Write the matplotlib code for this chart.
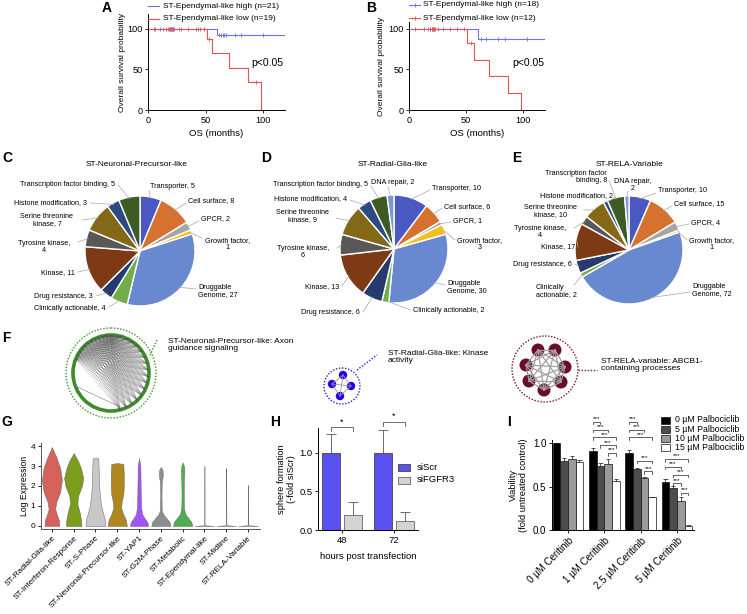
"""Ependymoma single-cell subtype figure: KM curves, druggable-gene pies,
network sketches, marker violins and two knock-down / drug bar charts."""

import numpy as np
import matplotlib

matplotlib.use("Agg")
import matplotlib.pyplot as plt
from matplotlib.patches import Circle, Rectangle

plt.rcParams["font.family"] = ["Liberation Sans", "DejaVu Sans"]

# ---------------------------------------------------------------- data
# A / B: Kaplan-Meier steps (months, % surviving) and censor marks
A_HIGH_T = [0, 60]
A_HIGH_S = [100, 92.5]
A_HIGH_CENS = [5, 10, 13, 17, 19, 20, 21, 22, 23, 29, 42, 45,
               62, 63, 65, 66, 68, 76, 81, 100]
A_LOW_T = [0, 51, 56, 70, 87, 98]
A_LOW_S = [100, 88, 70, 52, 35, 0]
A_LOW_CENS = [6, 16, 18, 19, 20, 21, 22, 27, 35, 43, 49, 53, 94]

B_HIGH_T = [0, 60]
B_HIGH_S = [100, 87.5]
B_HIGH_CENS = [5, 13, 17, 18, 20, 21, 22, 25, 30, 36, 42, 48,
               63, 67, 78, 84, 103]
B_LOW_T = [0, 51, 57, 70, 87, 98]
B_LOW_S = [100, 83, 62, 42, 21, 0]
B_LOW_CENS = [18, 20, 21, 22, 23, 54]

# C / D / E: druggable gene categories
PIE_CATS = ["Transporter", "Cell surface", "GPCR", "Growth factor",
            "Druggable Genome", "Clinically actionable", "Drug resistance",
            "Kinase", "Tyrosine kinase", "Serine threonine kinase",
            "Histone modification", "Transcription factor binding",
            "DNA repair"]
PIE_C = [5, 8, 2, 1, 27, 4, 3, 11, 4, 7, 3, 5, 0]
PIE_D = [10, 6, 1, 3, 30, 2, 6, 13, 6, 9, 4, 5, 2]
PIE_E = [10, 15, 4, 1, 72, 2, 6, 17, 4, 10, 2, 8, 2]
PIE_COLORS = ["#4a58c2", "#d5722f", "#a5a5a5", "#f2c01e", "#6889cf",
              "#72ae48", "#263a6e", "#7e3a14", "#585858", "#836817",
              "#2d4a82", "#3e5a25", "#7f95d6"]

# G: violin outlines (level, half width) per subtype
VIO_NAMES = ["ST-Radial-Glia-like", "ST-Interferon-Response", "ST-S-Phase",
             "ST-Neuronal-Precursor-like", "ST-YAP1", "ST-G2M-Phase",
             "ST-Metabolic", "ST-Ependymal-like", "ST-Midline",
             "ST-RELA-Variable"]
VIO_Y = [
    [0, 0.3, 0.6, 0.85, 1.2, 1.7, 2.3, 2.9, 3.4, 3.95],
    [0, 0.3, 0.7, 1.1, 1.5, 2.0, 2.4, 2.9, 3.3, 3.65],
    [0, 0.3, 0.6, 1.0, 1.5, 2.0, 2.5, 3.0, 3.38, 3.42],
    [0, 0.3, 0.6, 0.9, 1.2, 1.6, 2.0, 2.5, 3.1, 3.15],
    [0, 0.2, 0.4, 0.6, 0.9, 1.5, 2.2, 3.0, 3.4],
    [0, 0.2, 0.4, 0.6, 0.8, 1.5, 2.2, 2.5, 2.8, 2.95],
    [0, 0.2, 0.4, 0.6, 0.9, 1.5, 2.2, 2.8, 3.0, 3.18],
    [0, 0.04, 0.15, 3.0],
    [0, 0.04, 0.15, 2.9],
    [0, 0.04, 0.15, 2.05],
]
VIO_W = [
    [0.34, 0.32, 0.22, 0.15, 0.2, 0.38, 0.46, 0.38, 0.22, 0.0],
    [0.36, 0.34, 0.27, 0.17, 0.2, 0.38, 0.44, 0.33, 0.18, 0.0],
    [0.46, 0.44, 0.36, 0.26, 0.2, 0.17, 0.16, 0.14, 0.13, 0.0],
    [0.44, 0.4, 0.27, 0.18, 0.2, 0.28, 0.3, 0.3, 0.28, 0.0],
    [0.42, 0.38, 0.25, 0.14, 0.1, 0.08, 0.07, 0.06, 0.0],
    [0.44, 0.4, 0.25, 0.1, 0.04, 0.03, 0.04, 0.09, 0.08, 0.0],
    [0.44, 0.4, 0.26, 0.12, 0.06, 0.05, 0.06, 0.08, 0.06, 0.0],
    [0.45, 0.02, 0.006, 0.0],
    [0.45, 0.02, 0.006, 0.0],
    [0.45, 0.02, 0.006, 0.0],
]
VIO_COLORS = ["#d4625a", "#7c9c1c", "#c8c8c8", "#b0861e", "#a453f2",
              "#8e8e8e", "#4cae4c", "#c4c4c4", "#c4c4c4", "#c4c4c4"]

# H: sphere formation after siRNA
H_HOURS = ["48", "72"]
H_SCR = [1.0, 1.0]
H_SCR_ERR = [0.24, 0.29]
H_FGFR3 = [0.20, 0.12]
H_FGFR3_ERR = [0.16, 0.11]
H_SIG = [1.33, 1.40]

# I: viability, Ceritinib x Palbociclib
I_GROUPS = ["0 µM Ceritinib", "1 µM Ceritinib", "2.5 µM Ceritinib",
            "5 µM Ceritinib"]
I_SERIES = ["0 µM Palbociclib", "5 µM Palbociclib", "10 µM Palbociclib",
            "15 µM Palbociclib"]
I_VALS = [[1.00, 0.91, 0.89, 0.56],
          [0.80, 0.74, 0.70, 0.48],
          [0.82, 0.76, 0.60, 0.33],
          [0.79, 0.57, 0.38, 0.05]]
I_ERR = [[0.01, 0.04, 0.03, 0.03],
         [0.03, 0.03, 0.02, 0.03],
         [0.04, 0.06, 0.01, 0.05],
         [0.02, 0.02, 0.005, 0.01]]
I_COLORS = ["#000000", "#4d4d4d", "#9a9a9a", "#ffffff"]
# (group, bar a, bar b, bracket height)
I_SIG = [(1, 0, 1, 1.25), (1, 0, 2, 1.16), (1, 0, 3, 1.07), (1, 1, 3, 0.98),
         (1, 2, 3, 0.89),
         (2, 0, 1, 1.25), (2, 0, 2, 1.16), (2, 0, 3, 1.07), (2, 1, 3, 0.80),
         (2, 2, 3, 0.68),
         (3, 0, 3, 0.82), (3, 0, 2, 0.73), (3, 1, 3, 0.64), (3, 1, 2, 0.54),
         (3, 2, 3, 0.43)]

# ---------------------------------------------------------------- layout
W, H = 747, 614
fig = plt.figure(figsize=(W / 100, H / 100), dpi=100)

BLUE_KM = "#6f6ff2"
RED_KM = "#e4544c"
GREY_LEAD = "#a6a6a6"


def add_ax(l, t, r, b, **kw):
    """Axes from pixel box (left, top, right, bottom)."""
    return fig.add_axes([l / W, 1 - b / H, (r - l) / W, (b - t) / H], **kw)


def style(ax, fs=7):
    for s in ("top", "right"):
        ax.spines[s].set_visible(False)
    for s in ("left", "bottom"):
        ax.spines[s].set_linewidth(0.7)
    ax.tick_params(labelsize=fs, length=2.5, width=0.6, pad=1.5)


def km_panel(ax, curves, ytop):
    for t, s, t_end, cens, col in curves:
        ax.step(list(t) + [t_end], list(s) + [s[-1]], where="post",
                color=col, lw=0.8)
        idx = np.searchsorted(t, cens, side="right") - 1
        ax.plot(cens, np.asarray(s)[idx], ls="none", marker="|", ms=3,
                mew=0.6, color=col)
    ax.set_xlim(0, 119)
    ax.set_ylim(0, ytop)
    ax.set_xticks([0, 50, 100])
    ax.set_yticks([0, 50, 100])
    style(ax, 6.6)
    ax.tick_params(axis="y", pad=1.0)
    ax.text(90, 58, "p<0.05", fontsize=7.5, va="center")
    ax.set_xlabel("OS (months)", fontsize=6.8)
    ax.set_ylabel("Overall survival probability", fontsize=6)


# A
axa = add_ax(148, 14, 285, 110)
km_panel(axa, [(A_HIGH_T, A_HIGH_S, 119, A_HIGH_CENS, BLUE_KM),
               (A_LOW_T, A_LOW_S, 98, A_LOW_CENS, RED_KM)], 118.5)
axa.yaxis.set_label_coords(-0.16, 0.5)
axa.xaxis.set_label_coords(0.5, -0.198)

# B
axb = add_ax(409, 22, 545, 110)
km_panel(axb, [(B_HIGH_T, B_HIGH_S, 119, B_HIGH_CENS, BLUE_KM),
               (B_LOW_T, B_LOW_S, 98, B_LOW_CENS, RED_KM)], 108.6)
axb.yaxis.set_label_coords(-0.175, 0.5)
axb.xaxis.set_label_coords(0.5, -0.219)


# C / D / E pies ------------------------------------------------------
def pie_label(cat, v, brk):
    if brk is None:
        return f"{cat}, {v}"
    if brk == 0:
        return f"{cat},\n{v}"
    words = cat.split(" ")
    return " ".join(words[:brk]) + "\n" + " ".join(words[brk:]) + f", {v}"


# per category: text x, y, ha, multialign, line break, leader end x, y
LAY_C = {
    "Transporter": (150, 186, "left", "left", None, 149, 190),
    "Cell surface": (188, 201, "left", "left", None, 186, 203),
    "GPCR": (201, 219, "left", "left", None, 199, 221),
    "Growth factor": (205, 244, "left", "center", 0, 202, 238),
    "Druggable Genome": (198, 291, "left", "left", 1, 196, 289),
    "Clinically actionable": (106, 308, "right", "right", None, 109, 307),
    "Drug resistance": (93, 297, "right", "right", None, 96, 296),
    "Kinase": (75, 273, "right", "right", None, 78, 272),
    "Tyrosine kinase": (44, 247, "center", "center", 0, 78, 242),
    "Serine threonine kinase": (47, 220, "center", "center", 2, 82, 220),
    "Histone modification": (87, 203, "right", "right", None, 90, 203),
    "Transcription factor binding": (115, 184, "right", "right", None,
                                     118, 185),
}
LAY_D = {
    "Transporter": (432, 189, "left", "left", None, 430, 190),
    "Cell surface": (444, 207, "left", "left", None, 442, 208),
    "GPCR": (453, 221, "left", "left", None, 451, 222),
    "Growth factor": (457, 244, "left", "center", 0, 455, 240),
    "Druggable Genome": (447, 287, "left", "left", 1, 445, 285),
    "Clinically actionable": (413, 310, "left", "left", None, 411, 310),
    "Drug resistance": (360, 313, "right", "right", None, 363, 312),
    "Kinase": (339, 287, "right", "right", None, 342, 286),
    "Tyrosine kinase": (303, 252, "center", "center", 0, 337, 248),
    "Serine threonine kinase": (302, 216, "center", "center", 2, 336, 218),
    "Histone modification": (347, 199, "right", "right", None, 350, 200),
    "Transcription factor binding": (368, 184, "right", "right", None,
                                     371, 186),
    "DNA repair": (371, 183, "left", "left", None, 388, 187),
}
LAY_E = {
    "Transporter": (658, 191, "left", "left", None, 656, 193),
    "Cell surface": (674, 204, "left", "left", None, 672, 206),
    "GPCR": (691, 223, "left", "left", None, 689, 224),
    "Growth factor": (689, 244, "left", "center", 0, 687, 240),
    "Druggable Genome": (692, 290, "left", "left", 1, 690, 292),
    "Clinically actionable": (536, 291, "left", "left", 1, 574, 285),
    "Drug resistance": (572, 264, "right", "right", None, 575, 264),
    "Kinase": (575, 247, "right", "right", None, 578, 247),
    "Tyrosine kinase": (540, 232, "center", "center", 0, 574, 228),
    "Serine threonine kinase": (550, 211, "center", "center", 2, 584, 210),
    "Histone modification": (613, 196, "right", "right", None, 616, 197),
    "Transcription factor binding": (607, 177, "right", "right", 2,
                                     609, 181),
    "DNA repair": (633, 185, "center", "center", 0, 628, 191),
}

PIES = [(PIE_C, LAY_C, 140, 251, 55, "ST-Neuronal-Precursor-like", 137),
        (PIE_D, LAY_D, 394, 249, 54, "ST-Radial-Glia-like", 393),
        (PIE_E, LAY_E, 629, 250, 54, "ST-RELA-Variable", 630)]

pie_text = []   # collected, drawn on the overlay
for vals, lay, cx, cy, r, title, tx in PIES:
    keep = [i for i, v in enumerate(vals) if v > 0]
    axp = add_ax(cx - r, cy - r, cx + r, cy + r)
    wedges, _ = axp.pie([vals[i] for i in keep],
                        colors=[PIE_COLORS[i] for i in keep],
                        startangle=90, counterclock=False,
                        wedgeprops=dict(edgecolor="white", linewidth=1.0))
    axp.set_xlim(-1, 1)
    axp.set_ylim(-1, 1)
    for w, i in zip(wedges, keep):
        cat = PIE_CATS[i]
        mid = np.deg2rad((w.theta1 + w.theta2) / 2)
        sx, sy = cx + 0.97 * r * np.cos(mid), cy - 0.97 * r * np.sin(mid)
        x, y, ha, ma, brk, lx, ly = lay[cat]
        pie_text.append((pie_label(cat, vals[i], brk), x, y, ha, ma,
                         (sx, lx), (sy, ly)))
    pie_text.append((title, tx, 164, "center", "center", None, None))

# G violins -----------------------------------------------------------
axg = add_ax(41, 443, 260, 529)
for i, (vy, vw, col) in enumerate(zip(VIO_Y, VIO_W, VIO_COLORS), start=1):
    vy = np.asarray(vy)
    vw = np.asarray(vw)
    axg.fill_betweenx(vy, i - vw, i + vw, facecolor=col,
                      edgecolor="#6a6a6a", lw=0.35)
axg.set_xlim(0.5, 10.55)
axg.set_ylim(-0.15, 4.15)
axg.set_yticks([0, 1, 2, 3, 4])
axg.set_xticks(range(1, len(VIO_NAMES) + 1))
style(axg, 6)
axg.set_xticklabels(VIO_NAMES, rotation=45, ha="right",
                    rotation_mode="anchor", fontsize=5.9)
axg.spines["left"].set_color("#555555")
axg.spines["bottom"].set_color("#555555")
axg.set_ylabel("Log Expression", fontsize=6.2)
axg.yaxis.set_label_coords(-0.055, 0.5)


def up_err(ax, x, y, e, cap, color="#333333", lw=0.6):
    ax.vlines(x, y, np.asarray(y) + np.asarray(e), color=color, lw=lw)
    ax.hlines(np.asarray(y) + np.asarray(e), np.asarray(x) - cap,
              np.asarray(x) + cap, color=color, lw=lw)


def bracket(ax, x0, x1, y, drop, txt, fs, lw=0.6, color="#333333"):
    ax.plot([x0, x0, x1, x1], [y - drop, y, y, y - drop], color=color,
            lw=lw, clip_on=False)
    ax.text((x0 + x1) / 2, y + drop * 0.2, txt, ha="center", va="bottom",
            fontsize=fs, clip_on=False)


# H bars --------------------------------------------------------------
axh = add_ax(318, 428, 418, 530)
xh = np.arange(len(H_HOURS))
off, bw = 0.21, 0.35
axh.bar(xh - off, H_SCR, bw, color="#5a52f0", edgecolor="#444444", lw=0.6)
axh.bar(xh + off, H_FGFR3, bw, color="#d4d4d4", edgecolor="#666666", lw=0.6)
up_err(axh, xh - off, H_SCR, H_SCR_ERR, 0.1, "#555555")
up_err(axh, xh + off, H_FGFR3, H_FGFR3_ERR, 0.1, "#555555")
for x, yb in zip(xh, H_SIG):
    bracket(axh, x - off, x + off, yb, 0.05, "*", 6.5, color="#555555")
axh.set_xlim(-0.46, 1.46)
axh.set_ylim(0, 1.32)
axh.set_yticks([0, 0.5, 1.0])
axh.set_yticklabels(["0.0", "0.5", "1.0"])
axh.set_xticks(xh)
axh.set_xticklabels(H_HOURS)
style(axh, 6.8)
axh.set_ylabel("sphere formation\n(-fold siScr)", fontsize=6.7,
               linespacing=1.1)
axh.yaxis.set_label_coords(-0.22, 0.5)
axh.set_xlabel("hours post transfection", fontsize=6.8)
axh.xaxis.set_label_coords(0.5, -0.216)

# I bars --------------------------------------------------------------
axi = add_ax(552, 440, 694, 530)
xi = np.arange(len(I_GROUPS))
ib = 0.21
for k, (vals, errs, col) in enumerate(zip(I_VALS, I_ERR, I_COLORS)):
    xs = xi + (k - 1.5) * ib
    axi.bar(xs, vals, ib, color=col, edgecolor="#111111", lw=0.5)
    up_err(axi, xs, vals, errs, 0.06, "#111111", 0.5)
for g, a, b, yb in I_SIG:
    bracket(axi, g + (a - 1.5) * ib, g + (b - 1.5) * ib, yb, 0.03, "***",
            4.6, lw=0.5, color="#222222")
axi.set_xlim(-0.44, 3.47)
axi.set_ylim(0, 1.04)
axi.set_yticks([0, 0.5, 1.0])
axi.set_yticklabels(["0.0", "0.5", "1.0"])
axi.set_xticks(xi)
style(axi, 7)
axi.set_xticklabels(I_GROUPS, rotation=45, ha="right",
                    rotation_mode="anchor", fontsize=7)
axi.set_ylabel("Viability\n(fold untreated control)", fontsize=6.7,
               linespacing=1.1)
axi.yaxis.set_label_coords(-0.17, 0.5)

# overlay in pixel coordinates ----------------------------------------
ov = fig.add_axes([0, 0, 1, 1], zorder=10)
ov.set_xlim(0, W)
ov.set_ylim(H, 0)
ov.axis("off")
ov.patch.set_alpha(0)

# panel letters
for lab, x, y in [("A", 107, 8), ("B", 371, 8), ("C", 7, 158),
                  ("D", 266, 158), ("E", 517, 158), ("F", 6, 338),
                  ("G", 7, 422), ("H", 275, 422), ("I", 509, 422)]:
    ov.text(x, y, lab, fontsize=10, fontweight="bold", ha="center",
            va="center")

# KM legends
for (y, col, txt) in [(6, BLUE_KM, "ST-Ependymal-like high (n=21)"),
                      (19, RED_KM, "ST-Ependymal-like low (n=19)")]:
    ov.plot([148, 159], [y, y], color=col, lw=0.8)
    ov.text(163, y, txt, fontsize=6, va="center")
for (y, col, txt) in [(5, BLUE_KM, "ST-Ependymal-like high (n=18)"),
                      (18, RED_KM, "ST-Ependymal-like low (n=12)")]:
    ov.plot([409, 420], [y, y], color=col, lw=0.8)
    ov.plot([414.5], [y], marker="|", ms=3, mew=0.6, color=col)
    ov.text(423, y, txt, fontsize=6, va="center")

# pie labels and leaders
for txt, x, y, ha, ma, lxs, lys in pie_text:
    if lxs is not None:
        ov.plot(lxs, lys, color=GREY_LEAD, lw=0.5)
        ov.text(x, y, txt, fontsize=5.2, ha=ha, va="center",
                multialignment=ma, linespacing=1.05)
    else:
        ov.text(x, y, txt, fontsize=6, ha="center", va="center")

# F network sketches
GREEN_NET = (111, 373, 38, 45)
ov.add_patch(Circle(GREEN_NET[:2], GREEN_NET[3], fill=False, ls=(0, (1, 1.2)),
                    lw=1.0, ec="#3a9a2a"))
HB_SRC_DEG = [92, 98, 104, 110, 116, 122, 128, 134, 140, 146, 152, 158]
HB_DST_DEG = [74, 64, 54, 44, 34, 24, 14, 4, -6, -16, -26, -36, -46,
              -56, -66, -76]
gx, gy, gr = GREEN_NET[:3]
for a in HB_SRC_DEG:
    for b in HB_DST_DEG:
        ra, rb = np.deg2rad(a), np.deg2rad(b)
        ov.plot([gx + gr * np.cos(ra), gx + gr * np.cos(rb)],
                [gy - gr * np.sin(ra), gy - gr * np.sin(rb)],
                color="#555555", lw=0.2, alpha=0.6)
ra, rb = np.deg2rad(200), np.deg2rad(-70)
ov.plot([gx + gr * np.cos(ra), gx + gr * np.cos(rb)],
        [gy - gr * np.sin(ra), gy - gr * np.sin(rb)], color="#777777", lw=0.4)
ov.add_patch(Circle((gx, gy), gr, fill=False, lw=2.6, ec="#3c8c2c"))
ov.plot([150, 157], [355, 340], color="#3a9a2a", lw=1.0, ls=(0, (1, 1.2)))
ov.text(168, 345, "ST-Neuronal-Precursor-like: Axon\nguidance signaling",
        fontsize=6, va="center", linespacing=1.15)

BLUE_NODES = [(343, 375), (332, 384), (351, 386), (340, 396)]
ov.add_patch(Circle((342, 386), 18, fill=False, ls=(0, (1, 1.2)), lw=1.0,
                    ec="#2020ff"))
for i, p in enumerate(BLUE_NODES):
    for q in BLUE_NODES[i + 1:]:
        ov.plot([p[0], q[0]], [p[1], q[1]], color="#999999", lw=0.6)
for p in BLUE_NODES:
    ov.add_patch(Circle(p, 4.2, color="#2200ee", lw=0))
ov.plot([357, 377], [370, 355], color="#2020ff", lw=1.0, ls=(0, (1, 1.2)))
ov.text(388, 357, "ST-Radial-Glia-like: Kinase\nactivity", fontsize=6,
        va="center", linespacing=1.15)

RED_NODES = [(538, 350), (555, 350), (526, 365), (565, 367), (529, 381),
             (561, 382), (544, 390)]
ov.add_patch(Circle((545, 369), 33, fill=False, ls=(0, (1, 1.2)), lw=1.0,
                    ec="#7a1030"))
for i, p in enumerate(RED_NODES):
    for q in RED_NODES[i + 1:]:
        ov.plot([p[0], q[0]], [p[1], q[1]], color="#a0a0a0", lw=0.9)
for p in RED_NODES:
    ov.add_patch(Circle(p, 6.5, color="#6d0b2a", lw=0))
ov.plot([578, 597], [370, 370], color="#7a1030", lw=1.0, ls=(0, (1, 1.2)))
ov.text(601, 365, "ST-RELA-variable: ABCB1-\ncontaining processes",
        fontsize=6, va="center", linespacing=1.15)

# H legend
for y, fc, ec, txt in [(467, "#5a52f0", "#444444", "siScr"),
                       (480, "#d4d4d4", "#666666", "siFGFR3")]:
    ov.add_patch(Rectangle((398, y - 3.5), 12, 7, fc=fc, ec=ec, lw=0.6))
    ov.text(417, y, txt, fontsize=6.8, va="center")

# I legend
for k, (col, txt) in enumerate(zip(I_COLORS, I_SERIES)):
    y = 420 + 9.3 * k
    ov.add_patch(Rectangle((661, y - 3.5), 9, 7, fc=col, ec="#111111",
                           lw=0.5))
    ov.text(675, y, txt, fontsize=6.3, va="center")

fig.savefig("out.png", dpi=100)
